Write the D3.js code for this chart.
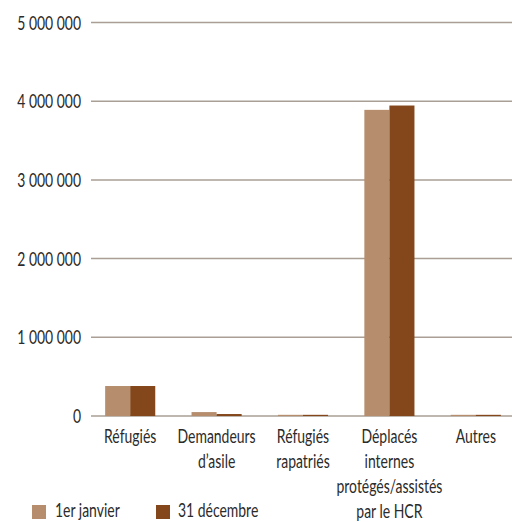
<!DOCTYPE html>
<html><head><meta charset="utf-8">
<script src="https://cdn.jsdelivr.net/npm/d3@7"></script>
<style>
body{margin:0;background:#fff;}
text{font-family:Lato,"Open Sans",sans-serif;fill:#2b2b2b;}
</style></head><body>
<svg id="c" width="512" height="522"></svg>
<script>
const categories = [["Réfugiés"],["Demandeurs","d’asile"],["Réfugiés","rapatriés"],["Déplacés","internes","protégés/assistés","par le HCR"],["Autres"]];
const seriesNames = ["1er janvier","31 décembre"];
const janvier = [381000, 50000, 15000, 3890000, 15000];
const decembre = [381000, 25000, 15000, 3945000, 15000];
const ticks = [0,1000000,2000000,3000000,4000000,5000000];
const colors = ["#b68e6e","#84461b"];

const SX = 0.735, FS = 19;
const svg = d3.select("#c");
const y = d3.scaleLinear().domain([0,5000000]).range([416,22.5]);
const x = d3.scaleBand().domain(d3.range(categories.length)).range([87,519]).paddingInner(0.42).paddingOuter(0.21);
const xs = d3.scaleBand().domain([0,1]).range([0,x.bandwidth()]);
const fmt = v => d3.format(",")(v).replace(/,/g," ");

function txt(parent, px, py, anchor){
  return parent.append("text").attr("transform",`translate(${px},${py}) scale(${SX},1)`)
    .attr("text-anchor",anchor).attr("font-size",FS);
}

const g = svg.append("g");
g.selectAll("line.grid").data(ticks).join("line")
  .attr("x1",91).attr("x2",512)
  .attr("y1",d=>y(d)).attr("y2",d=>y(d))
  .attr("stroke","#a99f95").attr("stroke-width",1.5);
ticks.forEach(t=>{ txt(g,81,y(t)+7,"end").text(fmt(t)); });

const series = [janvier, decembre];
series.forEach((s,si)=>{
  svg.append("g").selectAll("rect").data(s).join("rect")
    .attr("x",(d,i)=>x(i)+xs(si)).attr("width",xs.bandwidth())
    .attr("y",d=>y(d)).attr("height",d=>y(0)-y(d))
    .attr("fill",colors[si]);
});

const lab = svg.append("g");
categories.forEach((lines,i)=>{
  const t = txt(lab, x(i)+x.bandwidth()/2, 443, "middle");
  lines.forEach((l,j)=>{
    t.append("tspan").attr("x",0).attr("y",j*25).text(l);
  });
});

const leg = svg.append("g");
const legX = [32,156], legTX=[55,178];
seriesNames.forEach((n,i)=>{
  leg.append("rect").attr("x",legX[i]).attr("y",505).attr("width",14).attr("height",14).attr("fill",colors[i]);
  txt(leg,legTX[i],517,"start").text(n);
});
</script></body></html>
